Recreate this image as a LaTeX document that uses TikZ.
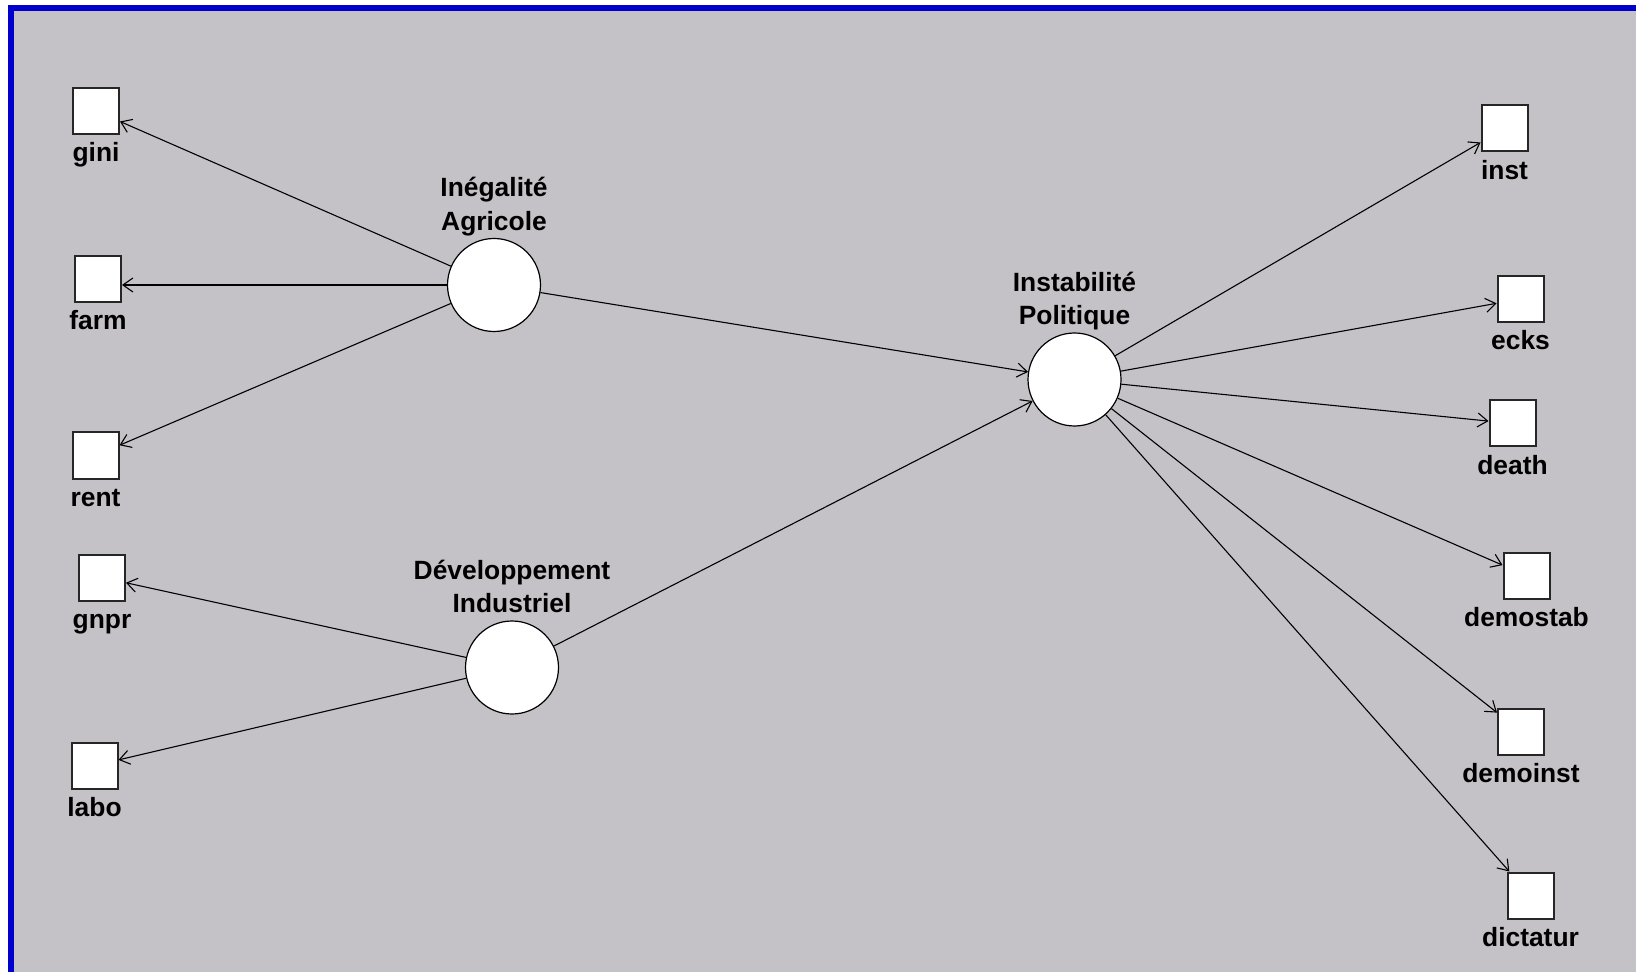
\documentclass[tikz,border=0pt]{standalone}
\usepackage{fontspec}
\setmainfont{Liberation Sans}
\usetikzlibrary{arrows.meta}
\definecolor{bg}{HTML}{C4C2C6}
\definecolor{framecol}{HTML}{0000CC}
\begin{document}
\begin{tikzpicture}[x=0.5pt,y=-0.5pt,
  box/.style={draw=black!85, line width=1pt, fill=white, minimum size=23pt, inner sep=0pt},
  latent/.style={circle, draw=black, line width=0.6pt, fill=white, minimum size=46.5pt, inner sep=0pt},
  lab/.style={font=\bfseries\fontsize{13.2}{15}\selectfont, inner sep=0pt, anchor=base},
  arr/.style={draw=black, line width=0.55pt, -{Straight Barb[length=5pt,width=7pt]}}]
\useasboundingbox (0,0) rectangle (1636,972);
\fill[white] (0,0) rectangle (1636,972);
\fill[bg] (8,5) rectangle (1636,972);
\fill[framecol] (8,5) rectangle (14,972);
\fill[framecol] (8,5) rectangle (1636,11);

% latent variables
\node[latent] (IA) at (494,285) {};
\node[latent] (IP) at (1074.5,379.5) {};
\node[latent] (DI) at (512,667.5) {};
\node[lab] (IA-t1) at ([yshift=20.5pt]IA.north) {Inégalité};
\node[lab] (IA-t2) at ([yshift=3.8pt]IA.north) {Agricole};
\node[lab] (IP-t1) at ([yshift=20.5pt]IP.north) {Instabilité};
\node[lab] (IP-t2) at ([yshift=3.8pt]IP.north) {Politique};
\node[lab] (DI-t1) at ([yshift=20.5pt]DI.north) {Développement};
\node[lab] (DI-t2) at ([yshift=3.8pt]DI.north) {Industriel};

% indicators
\node[box] (gini) at (96,111) {};
\node[box] (farm) at (98,279) {};
\node[box] (rent) at (95.5,455.5) {};
\node[box] (gnpr) at (102,577.5) {};
\node[box] (labo) at (94.5,765.5) {};
\node[box] (inst) at (1504.5,128.5) {};
\node[box] (ecks) at (1520.5,299) {};
\node[box] (death) at (1512.5,423.5) {};
\node[box] (demostab) at (1526.5,575.5) {};
\node[box] (demoinst) at (1521,731.5) {};
\node[box] (dictatur) at (1530.5,895.5) {};

\foreach \n in {gini,farm,rent,gnpr,labo,inst,ecks,death,demostab,demoinst,dictatur}
  \node[lab] (\n-t) at ([yshift=-13.3pt]\n.south) {\n};

% connectors
\draw[arr] (IA) -- (gini);
\draw[arr] (IA) -- (IA -| farm.east);
\draw[arr] (IA) -- (rent);
\draw[arr] (DI) -- (gnpr);
\draw[arr] (DI) -- (labo);
\draw[arr] (IA) -- (IP);
\draw[arr] (DI) -- (IP);
\draw[arr] (IP) -- (inst);
\draw[arr] (IP) -- (ecks);
\draw[arr] (IP) -- (death);
\draw[arr] (IP) -- (demostab);
\draw[arr] (IP) -- (demoinst);
\draw[arr] (IP) -- (dictatur);
\end{tikzpicture}
\end{document}
